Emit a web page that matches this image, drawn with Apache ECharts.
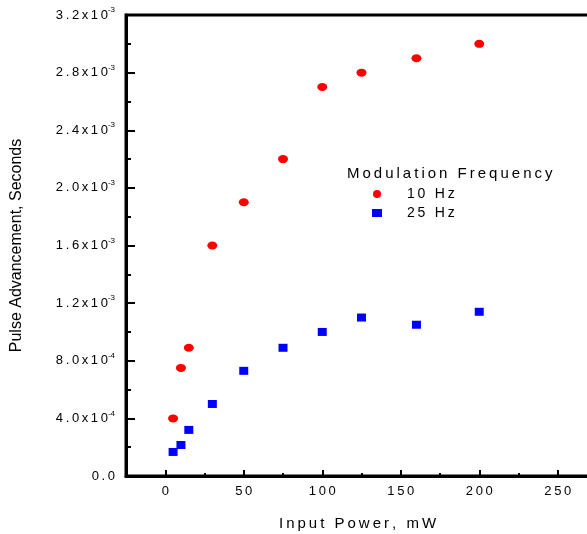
<!DOCTYPE html>
<html>
<head>
<meta charset="utf-8">
<script src="https://cdn.jsdelivr.net/npm/echarts@6/dist/echarts.min.js"></script>
<style>
  html, body { margin: 0; padding: 0; background: #fff; }
  #chart { width: 587px; height: 534px; }
</style>
</head>
<body>
<div id="chart"></div>
<script>
const power = [5, 10, 15, 30, 50, 75, 100, 125, 160, 200]
const adv10Hz = [4.0e-4, 7.5e-4, 8.9e-4, 1.6e-3, 1.9e-3, 2.2e-3, 2.7e-3, 2.8e-3, 2.9e-3, 3.0e-3]
const adv25Hz = [1.67e-4, 2.15e-4, 3.2e-4, 5.0e-4, 7.3e-4, 8.9e-4, 1.0e-3, 1.1e-3, 1.05e-3, 1.14e-3]
const xMajorTicks = [0, 50, 100, 150, 200, 250]
const xMinorTicks = [25, 75, 125, 175, 225]
const yTickMantissa = ['0.0', '4.0', '8.0', '1.2', '1.6', '2.0', '2.4', '2.8', '3.2']
const yTickExponent = ['', '-4', '-4', '-3', '-3', '-3', '-3', '-3', '-3']

const font = 'Liberation Sans, Arial, sans-serif'
// the original plot uses wide letter spacing, so thin spaces go between letters
const spaced = s => s.split('').join('\u2009')

const chart = echarts.init(document.getElementById('chart'))

const option = {
  animation: false,
  grid: {
    left: 126,
    top: 15,
    width: 471,
    height: 461,
    outerBoundsMode: 'none',
    show: true,
    borderColor: '#000',
    borderWidth: 3
  },
  legend: {
    orient: 'vertical',
    left: 367,
    top: 182,
    itemGap: 5,
    itemWidth: 10,
    itemHeight: 8,
    formatter: name => spaced(name),
    textStyle: { fontFamily: font, fontSize: 14, color: '#000', padding: [0, 0, 0, 20] },
    data: [
      { name: '10 Hz', icon: 'circle' },
      { name: '25 Hz', icon: 'rect' }
    ]
  },
  graphic: [
    {
      type: 'text',
      left: 347,
      top: 166,
      style: { text: spaced('Modulation Frequency'), font: '15px ' + font, fill: '#000' }
    }
  ],
  xAxis: [
    {
      type: 'value',
      min: -25,
      max: 275,
      interval: 25,
      name: spaced('Input Power, mW'),
      nameLocation: 'middle',
      nameGap: 40,
      nameTextStyle: { fontFamily: font, fontSize: 15, color: '#000', padding: [0, 8, 0, 0] },
      axisLine: { show: true, lineStyle: { color: '#000', width: 3 } },
      axisTick: { show: true, inside: true, length: 6, customValues: xMajorTicks, lineStyle: { color: '#000', width: 2 } },
      axisLabel: {
        fontFamily: font, fontSize: 13, color: '#000', margin: 9,
        customValues: xMajorTicks,
        formatter: v => spaced(String(v))
      },
      splitLine: { show: false }
    },
    {
      type: 'value',
      min: -25,
      max: 275,
      position: 'bottom',
      axisLine: { show: false },
      axisTick: { show: true, inside: true, length: 3, customValues: xMinorTicks, lineStyle: { color: '#000', width: 2 } },
      axisLabel: { show: false },
      splitLine: { show: false }
    }
  ],
  yAxis: {
    type: 'value',
    min: 0,
    max: 3.2e-3,
    interval: 4e-4,
    name: 'Pulse Advancement, Seconds',
    nameLocation: 'middle',
    nameGap: 101,
    nameTextStyle: { fontFamily: font, fontSize: 16, color: '#000' },
    axisLine: { show: true, onZero: false, lineStyle: { color: '#000', width: 3 } },
    axisTick: { show: true, inside: true, length: 9, lineStyle: { color: '#000', width: 2 } },
    minorTick: { show: true, splitNumber: 2, length: 5, lineStyle: { color: '#000', width: 2 } },
    axisLabel: {
      margin: 11,
      formatter: (v) => {
        const i = Math.round(v / 4e-4)
        if (!yTickExponent[i]) return '{b|' + spaced(yTickMantissa[i]) + '}'
        return '{b|' + spaced(yTickMantissa[i] + 'x10') + '}{s|' + yTickExponent[i] + '}'
      },
      rich: {
        b: { fontFamily: font, fontSize: 13, color: '#000' },
        s: { fontFamily: font, fontSize: 8, color: '#000', padding: [0, 0, 10, 0] }
      }
    },
    splitLine: { show: false }
  },
  series: [
    {
      name: '10 Hz',
      type: 'scatter',
      symbol: 'circle',
      symbolSize: [10, 8],
      itemStyle: { color: '#ff0000', opacity: 1 },
      data: power.map((p, i) => [p, adv10Hz[i]])
    },
    {
      name: '25 Hz',
      type: 'scatter',
      symbol: 'rect',
      symbolSize: [9, 8],
      itemStyle: { color: '#0000ff', opacity: 1 },
      data: power.map((p, i) => [p, adv25Hz[i]])
    }
  ]
}

chart.setOption(option)
</script>
</body>
</html>
